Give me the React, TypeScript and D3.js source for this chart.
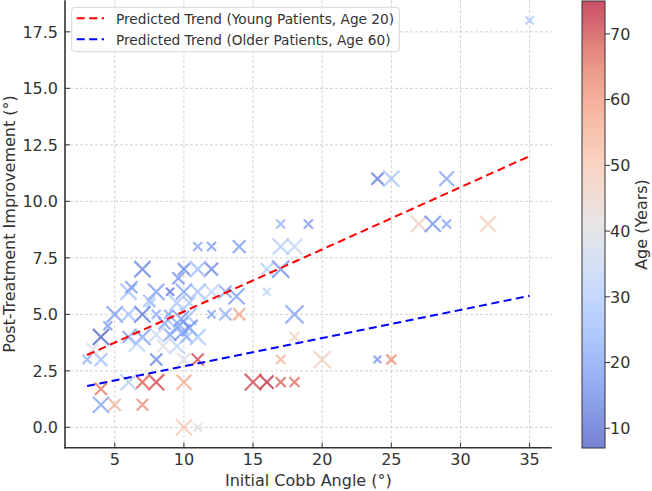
import React from 'react';
import * as d3 from 'd3';

// scatter data
const cobbAngle = [35, 24, 25, 29, 27, 28, 29, 32, 17, 19, 14, 17, 18, 16, 17, 16, 18, 18, 14, 13, 12, 20, 17, 24, 25, 15, 16, 17, 18, 11, 12, 10, 11, 12, 9.6, 9, 10, 11, 12, 13, 13.8, 10.4, 7, 6, 6.2, 8, 7.5, 9.5, 5, 6, 7, 8, 8.9, 9.8, 10.3, 4.5, 4, 6, 7, 8, 9, 9.9, 9.4, 10.4, 11, 6.6, 8.5, 9.5, 8, 10, 11, 3, 4, 3.4, 4, 4, 5, 7, 6, 7, 8, 10, 10, 11, 9.7, 10.2, 8.6, 7.6];
const improvement = [18, 11, 11, 11, 9, 9, 9, 9, 9, 9, 8, 8, 8, 7, 7, 6, 5, 4, 5, 5, 5, 3, 3, 3, 3, 2, 2, 2, 2, 8, 8, 7, 7, 7, 6.6, 6, 6, 6, 6, 6, 5.8, 5.5, 7, 6, 6.2, 6, 5.6, 5.5, 5, 5, 5, 5, 5, 4.8, 4.9, 4.5, 4, 4, 4, 4.1, 4.1, 4.2, 4.4, 4.4, 4, 3.7, 3.6, 3.6, 3, 3, 3, 3, 3, 3.45, 1.7, 1, 1, 1, 2, 2, 2, 2, 0, 0, 4.5, 4.0, 4.6, 5.5];
const age = [28, 12, 27, 20, 47, 17, 20, 48, 22, 18, 18, 30, 33, 30, 16, 32, 20, 46, 58, 22, 20, 48, 55, 17, 62, 70, 73, 68, 66, 20, 18, 15, 25, 14, 16, 12, 20, 26, 32, 20, 18, 28, 14, 26, 18, 18, 26, 28, 18, 26, 12, 22, 20, 18, 25, 18, 8, 18, 18, 34, 20, 18, 27, 16, 28, 32, 40, 32, 14, 40, 70, 22, 25, 40, 65, 20, 55, 62, 30, 68, 70, 56, 50, 40, 22, 25, 20, 28];
const markerSize = [40, 90, 160, 130, 160, 160, 50, 160, 50, 50, 100, 160, 160, 90, 180, 40, 200, 60, 90, 90, 40, 180, 50, 35, 60, 170, 110, 60, 60, 50, 50, 90, 160, 100, 90, 40, 160, 160, 160, 90, 160, 90, 160, 160, 90, 160, 90, 160, 160, 90, 160, 50, 50, 160, 160, 50, 160, 90, 160, 160, 90, 160, 160, 160, 160, 160, 90, 160, 90, 110, 90, 50, 100, 90, 90, 160, 90, 80, 160, 90, 160, 140, 160, 40, 160, 90, 90, 50];

// predicted trend lines (end points)
const trendX = [3, 35];
const youngTrend = [3.2, 12.0];
const olderTrend = [1.83, 5.82];

const xTicks = [5, 10, 15, 20, 25, 30, 35];
const yTicks = [0, 2.5, 5, 7.5, 10, 12.5, 15, 17.5];
const ageTicks = [10, 20, 30, 40, 50, 60, 70];
const ageRange = [7, 75];

const coolwarm = d3.piecewise(d3.interpolateRgb, ['#3b4cc0', '#6282ea', '#8db0fe', '#b8d0f9', '#dddcdc', '#f5c4ac', '#f49a7b', '#de604d', '#b40426']);

const W = 652;
const H = 491;
const plot = { left: 65, right: 551.7, top: 0.2, bottom: 447.7 };
const cbar = { left: 582, right: 605, top: 1, bottom: 448 };
const font = 'DejaVu Sans, sans-serif';
const ink = '#333';

const pad = (ext: [number, number]) => {
  const p = (ext[1] - ext[0]) * 0.05;
  return [ext[0] - p, ext[1] + p];
};

const App: React.FC = () => {
  const x = d3.scaleLinear().domain(pad(d3.extent(cobbAngle) as [number, number])).range([plot.left, plot.right]);
  const y = d3.scaleLinear().domain(pad(d3.extent(improvement) as [number, number])).range([plot.bottom, plot.top]);
  const color = d3.scaleSequential(coolwarm).domain(ageRange);
  const r = d3.scaleSqrt().domain([0, 200]).range([0, 9]);
  const cy = d3.scaleLinear().domain(ageRange).range([cbar.bottom, cbar.top]);

  const line = d3.line<number>().x((_, i) => x(trendX[i])).y(d => y(d));
  const gradStops = d3.range(0, 1.001, 0.05);

  return (
    <svg width={W} height={H} style={{ position: 'absolute', left: 0, top: 0 }} fontFamily={font}>
      <defs>
        <linearGradient id="cb" x1="0" y1="1" x2="0" y2="0">
          {gradStops.map(t => (
            <stop key={t} offset={t} stopColor={coolwarm(t)} />
          ))}
        </linearGradient>
      </defs>
      <rect width={W} height={H} fill="#fff" />

      {/* grid */}
      <g stroke="#b0b0b0" strokeWidth={0.8} strokeDasharray="3,2" opacity={0.7}>
        {xTicks.map(t => (
          <line key={t} x1={x(t)} x2={x(t)} y1={plot.top} y2={plot.bottom} />
        ))}
        {yTicks.map(t => (
          <line key={t} x1={plot.left} x2={plot.right} y1={y(t)} y2={y(t)} />
        ))}
      </g>

      {/* points */}
      <g fill="none" strokeWidth={2.2} strokeOpacity={0.72}>
        {cobbAngle.map((c, i) => {
          const px = x(c);
          const py = y(improvement[i]);
          const s = r(markerSize[i]);
          return (
            <path
              key={i}
              d={`M${px - s},${py - s}L${px + s},${py + s}M${px - s},${py + s}L${px + s},${py - s}`}
              stroke={color(age[i])}
            />
          );
        })}
      </g>

      {/* trend lines */}
      <path d={line(youngTrend) || ''} fill="none" stroke="#ff0000" strokeWidth={2} strokeDasharray="8,4.5" />
      <path d={line(olderTrend) || ''} fill="none" stroke="#0000ff" strokeWidth={2} strokeDasharray="8,4.5" />

      {/* spines and ticks */}
      <g stroke={ink} strokeWidth={1.6}>
        <line x1={plot.left} x2={plot.left} y1={plot.top} y2={plot.bottom + 0.8} />
        <line x1={plot.left - 0.8} x2={plot.right} y1={plot.bottom} y2={plot.bottom} />
      </g>
      <g stroke={ink} strokeWidth={1}>
        {xTicks.map(t => (
          <line key={t} x1={x(t)} x2={x(t)} y1={plot.bottom} y2={plot.bottom - 5} />
        ))}
        {yTicks.map(t => (
          <line key={t} x1={plot.left} x2={plot.left + 5} y1={y(t)} y2={y(t)} />
        ))}
      </g>
      <g fill={ink} fontSize={16}>
        {xTicks.map(t => (
          <text key={t} x={x(t)} y={465} textAnchor="middle">{t}</text>
        ))}
        {yTicks.map(t => (
          <text key={t} x={58} y={y(t)} dy="0.36em" textAnchor="end">{d3.format('.1f')(t)}</text>
        ))}
        <text x={(plot.left + plot.right) / 2} y={486} textAnchor="middle">Initial Cobb Angle (°)</text>
        <text transform={`translate(15,${(plot.top + plot.bottom) / 2}) rotate(-90)`} textAnchor="middle">Post-Treatment Improvement (°)</text>
      </g>

      {/* legend */}
      <g>
        <rect x={71.7} y={7.3} width={327.6} height={44.4} rx={3} fill="#fff" fillOpacity={0.8} stroke="#d5d5d5" strokeWidth={1} />
        <line x1={76.7} x2={104} y1={18.3} y2={18.3} stroke="#ff0000" strokeWidth={2} strokeDasharray="8,4.5" />
        <line x1={76.7} x2={104} y1={39.3} y2={39.3} stroke="#0000ff" strokeWidth={2} strokeDasharray="8,4.5" />
        <text x={116} y={23.5} fontSize={13.7} fill={ink}>Predicted Trend (Young Patients, Age 20)</text>
        <text x={116} y={44.5} fontSize={13.7} fill={ink}>Predicted Trend (Older Patients, Age 60)</text>
      </g>

      {/* colorbar */}
      <rect x={cbar.left} y={cbar.top} width={cbar.right - cbar.left} height={cbar.bottom - cbar.top} fill="url(#cb)" fillOpacity={0.7} />
      <rect x={cbar.left} y={cbar.top} width={cbar.right - cbar.left} height={cbar.bottom - cbar.top} fill="none" stroke={ink} strokeWidth={1} />
      <g stroke={ink} strokeWidth={1}>
        {ageTicks.map(t => (
          <line key={t} x1={cbar.right} x2={cbar.right + 5} y1={cy(t)} y2={cy(t)} />
        ))}
      </g>
      <g fill={ink} fontSize={16}>
        {ageTicks.map(t => (
          <text key={t} x={610} y={cy(t)} dy="0.36em">{t}</text>
        ))}
        <text transform={`translate(647,${(cbar.top + cbar.bottom) / 2}) rotate(-90)`} textAnchor="middle">Age (Years)</text>
      </g>
    </svg>
  );
};

export default App;
